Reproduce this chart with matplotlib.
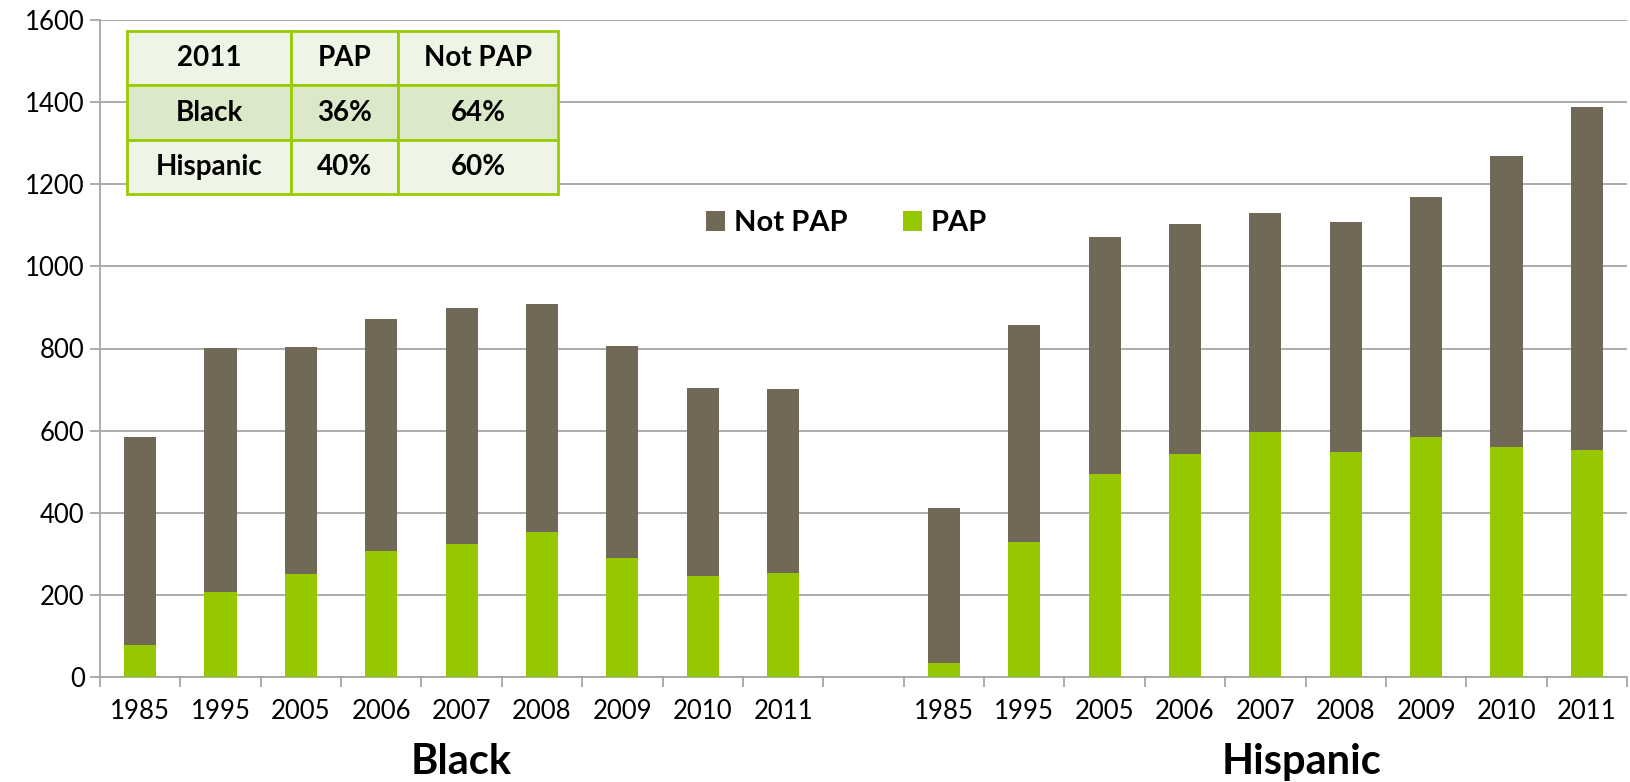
import matplotlib.pyplot as plt
import numpy as np

years = ["1985", "1995", "2005", "2006", "2007", "2008", "2009", "2010", "2011"]
groups = ["Black", "Hispanic"]

black_total = [585, 801, 804, 873, 898, 909, 806, 705, 702]
black_pap = [78, 207, 250, 308, 324, 352, 291, 245, 253]
hisp_total = [412, 858, 1071, 1103, 1130, 1109, 1168, 1268, 1388]
hisp_pap = [33, 329, 494, 542, 597, 547, 585, 560, 554]

table_header = ["2011", "PAP", "Not PAP"]
table_rows = [["Black", "36%", "64%"], ["Hispanic", "40%", "60%"]]

NOT_PAP_COLOR = "#726857"
PAP_COLOR = "#96C800"
GRID_COLOR = "#A6A6A6"
TABLE_EDGE = "#99CC00"

plt.rcParams["font.family"] = ["Lato", "DejaVu Sans"]

# positions: 9 black bars, one empty slot, 9 hispanic bars
n = len(years)
x_black = np.arange(n)
x_hisp = np.arange(n) + n + 1
x_all = np.concatenate([x_black, x_hisp])
total = np.array(black_total + hisp_total)
pap = np.array(black_pap + hisp_pap)
not_pap = total - pap

fig = plt.figure(figsize=(16.31, 7.82), dpi=100)
ax = fig.add_axes([100 / 1631, 105 / 782, 1527 / 1631, 657 / 782])

width = 0.4
ax.bar(x_all, pap, width, color=PAP_COLOR, label="PAP", zorder=3)
ax.bar(x_all, not_pap, width, bottom=pap, color=NOT_PAP_COLOR,
       label="Not PAP", zorder=3)

ax.set_xlim(-0.5, 2 * n + 0.5)
ax.set_ylim(0, 1600)
ax.set_yticks(np.arange(0, 1601, 200))
ax.yaxis.grid(True, color=GRID_COLOR, linewidth=1.3, zorder=0)
ax.set_axisbelow(True)

ax.set_xticks(x_all)
ax.set_xticklabels(years + years)
ax.set_xticks(np.arange(-0.5, 2 * n + 1, 1), minor=True)
ax.tick_params(axis="x", which="major", length=0, pad=16, labelsize=18.5)
ax.tick_params(axis="x", which="minor", length=7, width=1.3, color=GRID_COLOR)
ax.tick_params(axis="y", length=7, width=1.3, color=GRID_COLOR, pad=4,
               labelsize=18.5)

for side in ["top", "right"]:
    ax.spines[side].set_visible(False)
for side in ["left", "bottom"]:
    ax.spines[side].set_color(GRID_COLOR)
    ax.spines[side].set_linewidth(1.3)

# group labels under the year labels
ax.text(x_black.mean(), -0.13, groups[0], transform=ax.get_xaxis_transform(),
        ha="center", va="center", fontsize=30, fontweight="bold")
ax.text(x_hisp.mean() + 0.45, -0.13, groups[1],
        transform=ax.get_xaxis_transform(),
        ha="center", va="center", fontsize=30, fontweight="bold")

handles, labels = ax.get_legend_handles_labels()
ax.legend(handles[::-1], labels[::-1], ncol=2, loc="center",
          bbox_to_anchor=(0.489, 0.691), frameon=False,
          handlelength=0.65, handleheight=0.65, handletextpad=0.3,
          columnspacing=1.9, prop={"size": 21, "weight": "bold"})

# summary table
cell_text = [table_header] + table_rows
tbl = ax.table(cellText=cell_text, cellLoc="center",
               colWidths=[0.382, 0.249, 0.370],
               bbox=[0.0177, 0.735, 0.282, 0.248], zorder=5)
tbl.auto_set_font_size(False)
for (r, c), cell in tbl.get_celld().items():
    cell.set_edgecolor(TABLE_EDGE)
    cell.set_linewidth(2)
    cell.set_facecolor("#DCE8CA" if r == 1 else "#EEF4E6")
    cell.set_text_props(fontsize=20, fontweight="bold")
    if c == 0:
        cell._loc = "left"
        cell.PAD = 0.13

fig.savefig("out.png", dpi=100)
plt.close(fig)
